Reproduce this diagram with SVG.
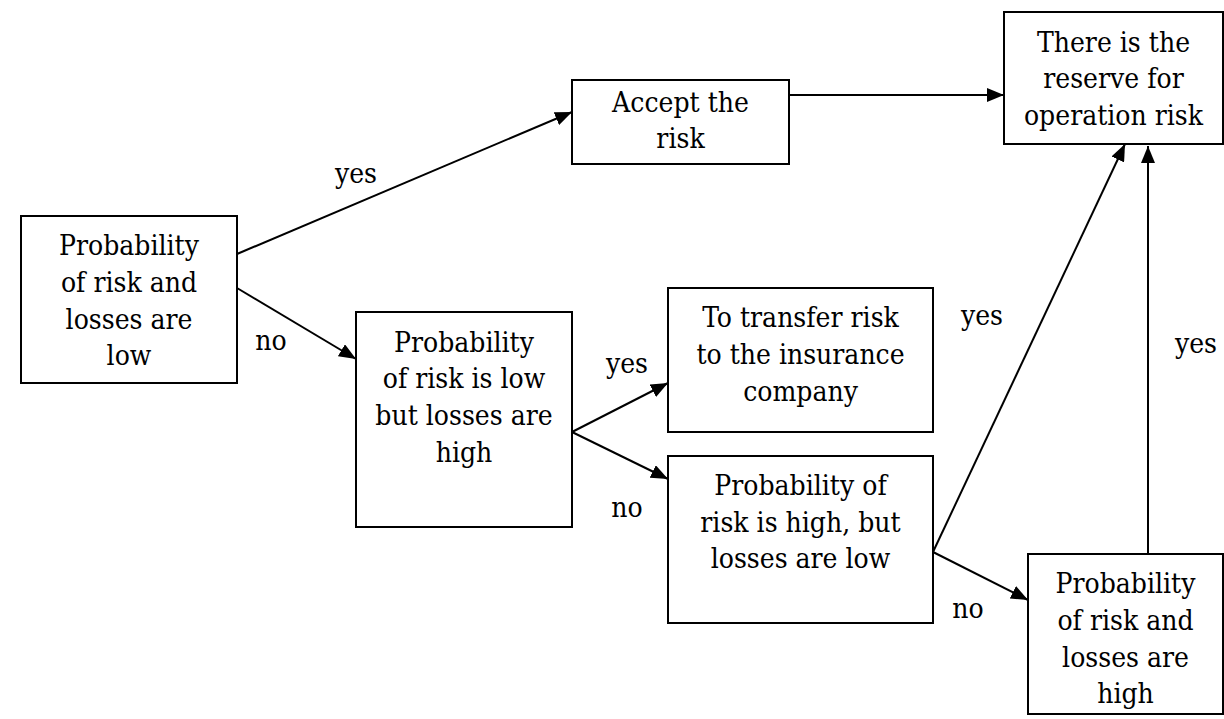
<svg xmlns="http://www.w3.org/2000/svg" width="1224" height="719" viewBox="0 0 1224 719" font-family="DejaVu Serif Condensed, DejaVu Serif, serif" font-size="28" font-stretch="condensed">
  <defs>
    <marker id="arrow" markerUnits="userSpaceOnUse" markerWidth="18" markerHeight="14" refX="17" refY="7" orient="auto">
      <path d="M0,0 L17,7 L0,14 z" fill="#000"/>
    </marker>
    <style>
      .box { fill: #fff; stroke: #000; stroke-width: 2; }
      .lbl { fill: #000; text-anchor: middle; }
      .edge { fill: none; stroke: #000; stroke-width: 2; }
      .head { marker-end: url(#arrow); }
    </style>
  </defs>
  <rect width="1224" height="719" fill="#fff"/>

  <!-- connectors and their yes/no labels -->
  <g id="connectors">
    <line class="edge head" x1="237" y1="254" x2="572" y2="112"/>
    <line class="edge head" x1="237" y1="288" x2="356" y2="359"/>
    <line class="edge head" x1="789" y1="95" x2="1004" y2="95"/>
    <line class="edge head" x1="572" y1="432" x2="668" y2="383"/>
    <line class="edge head" x1="572" y1="432" x2="668" y2="479"/>
    <line class="edge head" x1="933" y1="552" x2="1125" y2="144"/>
    <line class="edge head" x1="933" y1="552" x2="1028" y2="600"/>
    <line class="edge head" x1="1148" y1="554" x2="1148" y2="146"/>
    <text class="lbl" x="356" y="183">yes</text>
    <text class="lbl" x="271" y="350">no</text>
    <text class="lbl" x="627" y="373">yes</text>
    <text class="lbl" x="627" y="517">no</text>
    <text class="lbl" x="982" y="325">yes</text>
    <text class="lbl" x="1196" y="353">yes</text>
    <text class="lbl" x="968" y="618">no</text>
  </g>

  <g id="node-low-low">
    <rect class="box" x="21" y="216" width="216" height="167"/>
    <text class="lbl" x="129" y="255">Probability</text>
    <text class="lbl" x="129" y="292">of risk and</text>
    <text class="lbl" x="129" y="329">losses are</text>
    <text class="lbl" x="129" y="365">low</text>
  </g>

  <g id="node-accept">
    <rect class="box" x="572" y="80" width="217" height="84"/>
    <text class="lbl" x="680.5" y="112">Accept the</text>
    <text class="lbl" x="680.5" y="148">risk</text>
  </g>

  <g id="node-reserve">
    <rect class="box" x="1004" y="12" width="219" height="132"/>
    <text class="lbl" x="1113.5" y="52">There is the</text>
    <text class="lbl" x="1113.5" y="88">reserve for</text>
    <text class="lbl" x="1113.5" y="125">operation risk</text>
  </g>

  <g id="node-low-high">
    <rect class="box" x="356" y="312" width="216" height="215"/>
    <text class="lbl" x="464" y="352">Probability</text>
    <text class="lbl" x="464" y="388">of risk is low</text>
    <text class="lbl" x="464" y="425">but losses are</text>
    <text class="lbl" x="464" y="462">high</text>
  </g>

  <g id="node-transfer">
    <rect class="box" x="668" y="288" width="265" height="144"/>
    <text class="lbl" x="800.5" y="327">To transfer risk</text>
    <text class="lbl" x="800.5" y="364">to the insurance</text>
    <text class="lbl" x="800.5" y="401">company</text>
  </g>

  <g id="node-high-low">
    <rect class="box" x="668" y="456" width="265" height="167"/>
    <text class="lbl" x="800.5" y="495">Probability of</text>
    <text class="lbl" x="800.5" y="532">risk is high, but</text>
    <text class="lbl" x="800.5" y="568">losses are low</text>
  </g>

  <g id="node-high-high">
    <rect class="box" x="1028" y="554" width="195" height="160"/>
    <text class="lbl" x="1125.5" y="593">Probability</text>
    <text class="lbl" x="1125.5" y="630">of risk and</text>
    <text class="lbl" x="1125.5" y="667">losses are</text>
    <text class="lbl" x="1125.5" y="703">high</text>
  </g>
</svg>
